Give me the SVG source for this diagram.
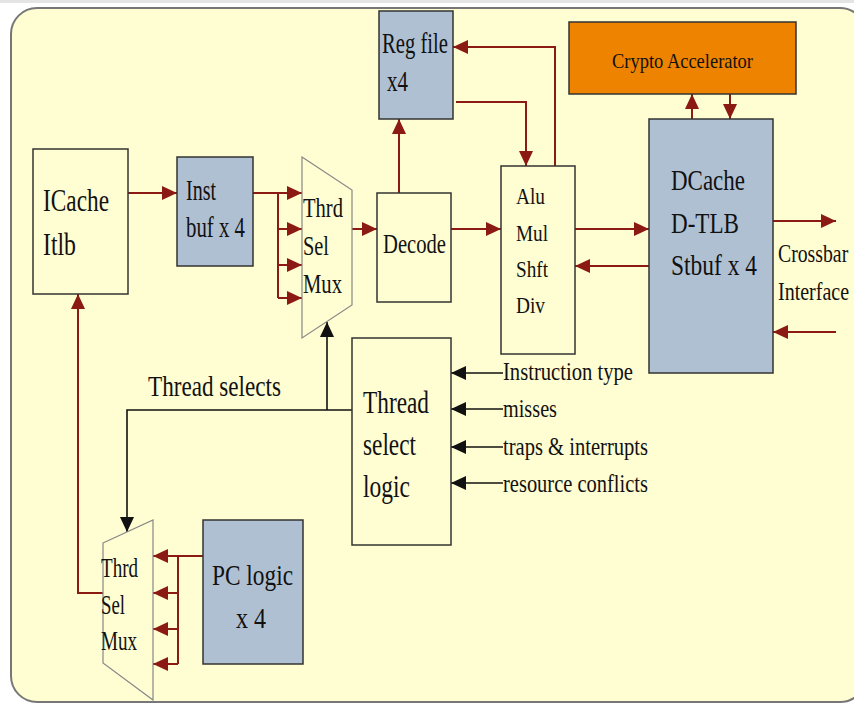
<svg xmlns="http://www.w3.org/2000/svg" width="854" height="704" viewBox="0 0 854 704">
<style>
.box{fill:#FFFDD2;stroke:#333;stroke-width:1.5}
.blue{fill:#AFC0D3;stroke:#333;stroke-width:1.5}
.mux{fill:#FFFDD2;stroke:#888;stroke-width:1.2}
.t{font-family:"Liberation Serif",serif;fill:#111}
.r{fill:none;stroke:#8B1A12;stroke-width:2}
.k{fill:none;stroke:#111;stroke-width:1.6}
</style>
<defs>
<marker id="ar" markerUnits="userSpaceOnUse" markerWidth="16" markerHeight="14" refX="15" refY="7" orient="auto"><path d="M0,0 L15,7 L0,14 z" fill="#8B1A12"/></marker>
<marker id="ak" markerUnits="userSpaceOnUse" markerWidth="16" markerHeight="14" refX="15" refY="7" orient="auto"><path d="M0,0 L15,7 L0,14 z" fill="#111"/></marker>
</defs>
<rect x="0" y="0" width="854" height="704" fill="#FFFFFF"/>
<rect x="0" y="0" width="854" height="3" fill="#E4E4E4"/>
<rect x="11" y="8" width="855" height="694" rx="26" fill="#FFFDD2" stroke="#777" stroke-width="2"/>

<g id="connectors">
<path class="r" d="M128,193 H177" marker-end="url(#ar)"/>
<path class="r" d="M253,193 H278 V298"/>
<path class="r" d="M278,193 H302" marker-end="url(#ar)"/>
<path class="r" d="M278,229 H302" marker-end="url(#ar)"/>
<path class="r" d="M278,265 H302" marker-end="url(#ar)"/>
<path class="r" d="M278,298 H302" marker-end="url(#ar)"/>
<path class="r" d="M352,229 H377" marker-end="url(#ar)"/>
<path class="r" d="M399,193 V119" marker-end="url(#ar)"/>
<path class="r" d="M555,166 V47 H453" marker-end="url(#ar)"/>
<path class="r" d="M456,102 H526 V166" marker-end="url(#ar)"/>
<path class="r" d="M451,229 H501" marker-end="url(#ar)"/>
<path class="r" d="M575,229 H649" marker-end="url(#ar)"/>
<path class="r" d="M649,266 H575" marker-end="url(#ar)"/>
<path class="r" d="M692,119 V94" marker-end="url(#ar)"/>
<path class="r" d="M730,94 V119" marker-end="url(#ar)"/>
<path class="r" d="M773,221 H836" marker-end="url(#ar)"/>
<path class="r" d="M836,332 H773" marker-end="url(#ar)"/>
<path class="k" d="M503,373 H451" marker-end="url(#ak)"/>
<path class="k" d="M503,409 H451" marker-end="url(#ak)"/>
<path class="k" d="M503,447 H451" marker-end="url(#ak)"/>
<path class="k" d="M503,483 H451" marker-end="url(#ak)"/>
<path class="k" d="M352,410 H127 V532" marker-end="url(#ak)"/>
<path class="k" d="M327,410 V322" marker-end="url(#ak)"/>
<path class="r" d="M103,593 H78 V294" marker-end="url(#ar)"/>
<path class="r" d="M203,556 H178 V664"/>
<path class="r" d="M178,556 H153" marker-end="url(#ar)"/>
<path class="r" d="M178,593 H153" marker-end="url(#ar)"/>
<path class="r" d="M178,629 H153" marker-end="url(#ar)"/>
<path class="r" d="M178,664 H153" marker-end="url(#ar)"/>
</g>

<g id="icache">
<rect class="box" x="33" y="149" width="95" height="145"/>
<text class="t" x="43" y="211" font-size="32" textLength="66" lengthAdjust="spacingAndGlyphs">ICache</text>
<text class="t" x="43" y="255" font-size="32" textLength="33" lengthAdjust="spacingAndGlyphs">Itlb</text>
</g>

<g id="instbuf">
<rect class="blue" x="177" y="157" width="76" height="109"/>
<text class="t" x="186" y="200" font-size="30" textLength="30" lengthAdjust="spacingAndGlyphs">Inst</text>
<text class="t" x="186" y="237" font-size="30" textLength="59" lengthAdjust="spacingAndGlyphs">buf x 4</text>
</g>

<g id="mux1">
<polygon class="mux" points="302,157 352,190 352,305 302,338"/>
<text class="t" x="303" y="217" font-size="28" textLength="40" lengthAdjust="spacingAndGlyphs">Thrd</text>
<text class="t" x="303" y="255" font-size="28" textLength="26" lengthAdjust="spacingAndGlyphs">Sel</text>
<text class="t" x="303" y="293" font-size="28" textLength="39" lengthAdjust="spacingAndGlyphs">Mux</text>
</g>

<g id="decode">
<rect class="box" x="377" y="193" width="74" height="109"/>
<text class="t" x="383" y="253" font-size="28" textLength="63" lengthAdjust="spacingAndGlyphs">Decode</text>
</g>

<g id="regfile">
<rect class="blue" x="379" y="11" width="74" height="108"/>
<text class="t" x="382" y="53" font-size="29" textLength="66" lengthAdjust="spacingAndGlyphs">Reg file</text>
<text class="t" x="387" y="91" font-size="29" textLength="21" lengthAdjust="spacingAndGlyphs">x4</text>
</g>

<g id="alu">
<rect class="box" x="501" y="166" width="74" height="188"/>
<text class="t" x="516" y="204" font-size="24" textLength="29" lengthAdjust="spacingAndGlyphs">Alu</text>
<text class="t" x="516" y="241" font-size="24" textLength="32" lengthAdjust="spacingAndGlyphs">Mul</text>
<text class="t" x="516" y="277" font-size="24" textLength="32" lengthAdjust="spacingAndGlyphs">Shft</text>
<text class="t" x="516" y="313" font-size="24" textLength="29" lengthAdjust="spacingAndGlyphs">Div</text>
</g>

<g id="dcache">
<rect class="blue" x="649" y="119" width="124" height="254"/>
<text class="t" x="671" y="190" font-size="29" textLength="74" lengthAdjust="spacingAndGlyphs">DCache</text>
<text class="t" x="671" y="233" font-size="29" textLength="68" lengthAdjust="spacingAndGlyphs">D-TLB</text>
<text class="t" x="671" y="275" font-size="29" textLength="86" lengthAdjust="spacingAndGlyphs">Stbuf x 4</text>
</g>

<g id="crypto">
<rect x="569" y="22" width="227" height="72" fill="#EE8300" stroke="#333" stroke-width="1.5"/>
<text class="t" x="612" y="68" font-size="21" textLength="141" lengthAdjust="spacingAndGlyphs">Crypto Accelerator</text>
</g>

<g id="crossbar">
<text class="t" transform="matrix(0.76 0 0 1 778 262)" x="0" y="0" font-size="26">Crossbar</text>
<text class="t" transform="matrix(0.77 0 0 1 778 300)" x="0" y="0" font-size="26">Interface</text>
</g>

<g id="threadselect">
<rect class="box" x="352" y="338" width="99" height="207"/>
<text class="t" x="363" y="413" font-size="31" textLength="66" lengthAdjust="spacingAndGlyphs">Thread</text>
<text class="t" x="363" y="455" font-size="31" textLength="53" lengthAdjust="spacingAndGlyphs">select</text>
<text class="t" x="363" y="497" font-size="31" textLength="47" lengthAdjust="spacingAndGlyphs">logic</text>
</g>

<g id="inputs">
<text class="t" x="503" y="380" font-size="25" textLength="130" lengthAdjust="spacingAndGlyphs">Instruction type</text>
<text class="t" x="503" y="417" font-size="25" textLength="54" lengthAdjust="spacingAndGlyphs">misses</text>
<text class="t" x="503" y="455" font-size="25" textLength="145" lengthAdjust="spacingAndGlyphs">traps &amp; interrupts</text>
<text class="t" x="503" y="492" font-size="25" textLength="145" lengthAdjust="spacingAndGlyphs">resource conflicts</text>
</g>

<g id="threadselects-label">
<text class="t" x="148" y="396" font-size="29" textLength="133" lengthAdjust="spacingAndGlyphs">Thread selects</text>
</g>

<g id="mux2">
<polygon class="mux" points="103,543 153,520 153,700 103,663"/>
<text class="t" x="101" y="577" font-size="27" textLength="37" lengthAdjust="spacingAndGlyphs">Thrd</text>
<text class="t" x="101" y="614" font-size="27" textLength="24" lengthAdjust="spacingAndGlyphs">Sel</text>
<text class="t" x="101" y="650" font-size="27" textLength="36" lengthAdjust="spacingAndGlyphs">Mux</text>
</g>

<g id="pclogic">
<rect class="blue" x="203" y="520" width="100" height="144"/>
<text class="t" x="212" y="585" font-size="30" textLength="81" lengthAdjust="spacingAndGlyphs">PC logic</text>
<text class="t" x="236" y="628" font-size="30" textLength="30" lengthAdjust="spacingAndGlyphs">x 4</text>
</g>
</svg>
